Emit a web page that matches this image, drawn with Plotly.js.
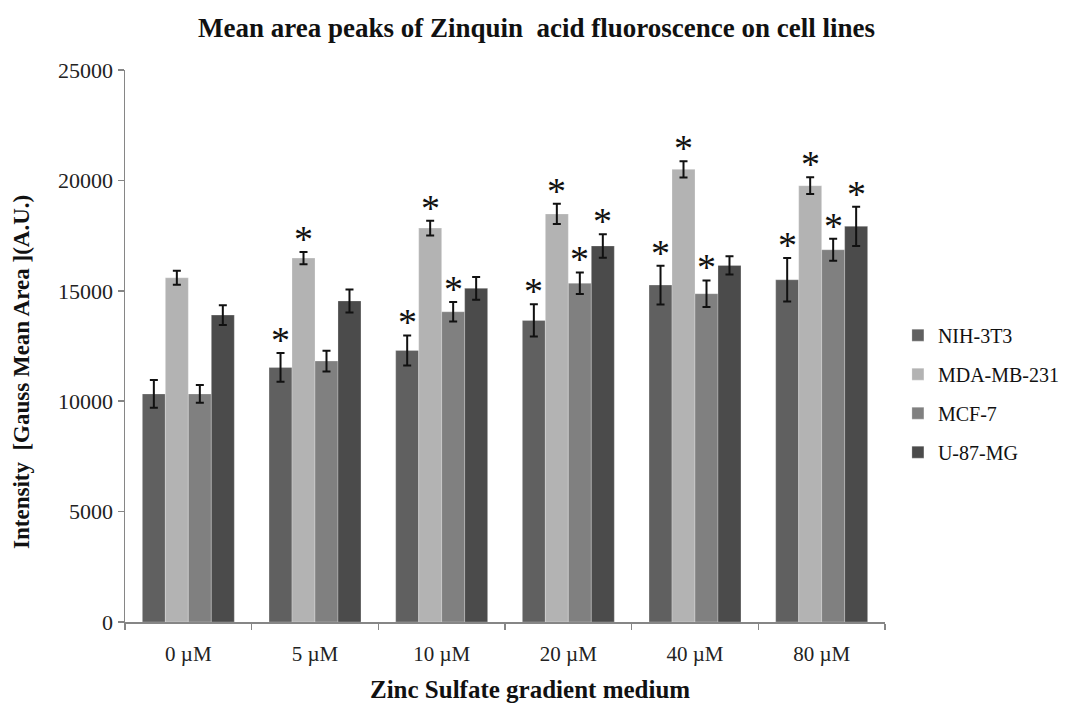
<!DOCTYPE html>
<html>
<head>
<meta charset="utf-8">
<script src="https://cdn.plot.ly/plotly-3.0.1.min.js"></script>
<style>html,body{margin:0;padding:0;background:#fff;}#chart{width:1073px;height:712px;}</style>
</head>
<body>
<div id="chart"></div>
<script>
const categories = ['0 µM', '5 µM', '10 µM', '20 µM', '40 µM', '80 µM'];
const seriesNames = ['NIH-3T3', 'MDA-MB-231', 'MCF-7', 'U-87-MG'];
const nih = [10330, 11530, 12300, 13660, 15260, 15500];
const nihErr = [630, 650, 680, 730, 880, 980];
const mda = [15590, 16480, 17840, 18480, 20500, 19760];
const mdaErr = [320, 280, 330, 460, 370, 380];
const mcf = [10330, 11820, 14050, 15340, 14870, 16860];
const mcfErr = [400, 470, 440, 490, 600, 500];
const u87 = [13900, 14540, 15110, 17030, 16150, 17920];
const u87Err = [450, 520, 520, 530, 410, 890];
const nihStar = [0, 1, 1, 1, 1, 1];
const mdaStar = [0, 1, 1, 1, 1, 1];
const mcfStar = [0, 0, 1, 1, 1, 1];
const u87Star = [0, 0, 0, 1, 0, 1];
const yTicks = [0, 5000, 10000, 15000, 20000, 25000];

const colors = ['#606060', '#b3b3b3', '#808080', '#4b4b4b'];
const values = [nih, mda, mcf, u87];
const errs = [nihErr, mdaErr, mcfErr, u87Err];
const stars = [nihStar, mdaStar, mcfStar, u87Star];
const serif = 'Liberation Serif, Times New Roman, serif';
const bargap = 0.274;

const traces = values.map((v, i) => ({
  type: 'bar', name: seriesNames[i], x: categories, y: v,
  marker: {color: colors[i], line: {color: 'rgba(255,255,255,0.25)', width: 1}},
  error_y: {type: 'data', array: errs[i], visible: true, color: '#111', thickness: 2, width: 4},
  legendgroup: 'g' + i
}));

const annotations = [];
const w = (1 - bargap) / 4;
stars.forEach((s, i) => {
  s.forEach((flag, j) => {
    if (flag) {
      annotations.push({
        x: j + (i - 1.5) * w, y: values[i][j] + errs[i][j], xref: 'x', yref: 'y',
        text: '*', showarrow: false, yanchor: 'bottom', yshift: -10,
        font: {family: serif, size: 38, color: '#111'}
      });
    }
  });
});
annotations.push({
  text: '<b>Zinc Sulfate gradient medium</b>', xref: 'paper', yref: 'paper',
  x: 0.533, y: -0.122, xanchor: 'center', yanchor: 'middle', showarrow: false,
  font: {family: serif, size: 25, color: '#111'}
});
annotations.push({
  text: '<b>Intensity  [Gauss Mean Area ](A.U.)</b>', xref: 'paper', yref: 'paper',
  x: -0.1355, y: 0.453, xanchor: 'center', yanchor: 'middle', textangle: -90, showarrow: false,
  font: {family: serif, size: 23, color: '#111'}
});

const layout = {
  width: 1073, height: 712,
  margin: {l: 125, r: 188, t: 70, b: 90, autoexpand: false},
  paper_bgcolor: '#fff', plot_bgcolor: '#fff',
  barmode: 'group', bargap: bargap, bargroupgap: 0,
  title: {text: '<b>Mean area peaks of Zinquin  acid fluoroscence on cell lines</b>', x: 0.5, xanchor: 'center', y: 0.962, yanchor: 'middle',
    font: {family: serif, size: 27, color: '#111'}},
  xaxis: {
    type: 'category', showline: true, linecolor: '#868686', linewidth: 1.5,
    ticks: 'outside', tickson: 'boundaries', ticklen: 6, tickcolor: '#868686', tickwidth: 1.5,
    tickfont: {family: serif, size: 21, color: '#222'}, ticklabelstandoff: 12,
    showgrid: false, zeroline: false
  },
  yaxis: {
    range: [0, 25000], tickvals: yTicks, tickformat: 'd', showline: true, linecolor: '#868686', linewidth: 1.5,
    ticks: 'outside', ticklen: 6, tickcolor: '#868686', tickwidth: 1.5,
    tickfont: {family: serif, size: 22, color: '#222'},
    showgrid: false, zeroline: false
  },
  legend: {x: 1.017, xanchor: 'left', y: 0.555, yanchor: 'top', traceorder: 'grouped', tracegroupgap: 10,
    font: {family: serif, size: 20, color: '#111'}, bgcolor: 'rgba(0,0,0,0)', itemwidth: 30},
  annotations: annotations,
  showlegend: true
};

Plotly.newPlot('chart', traces, layout, {displayModeBar: false, staticPlot: true});
</script>
</body>
</html>
